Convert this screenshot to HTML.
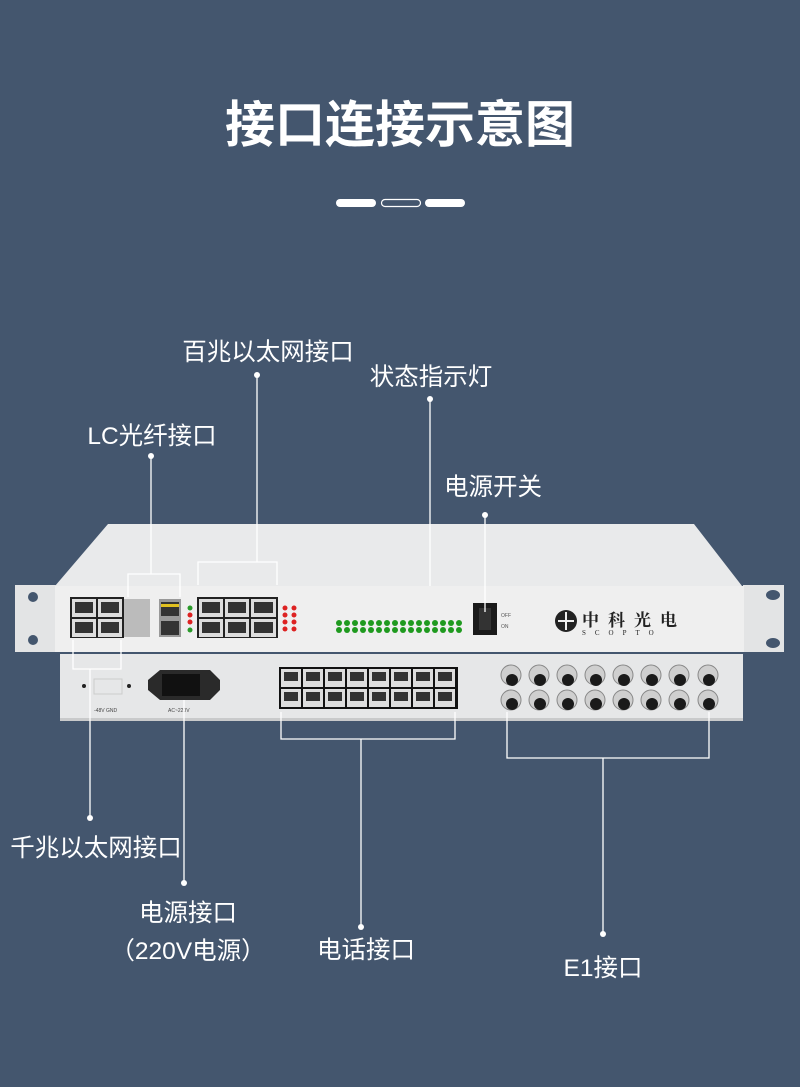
<!DOCTYPE html>
<html><head><meta charset="utf-8"><style>
html,body{margin:0;padding:0;}
body{width:800px;height:1087px;background:#44566e;position:relative;overflow:hidden;font-family:"Liberation Sans","Noto Sans CJK SC",sans-serif;}
.t{position:absolute;color:#fff;white-space:nowrap;transform:translateX(-50%);font-size:24.5px;line-height:1;}
svg{position:absolute;left:0;top:0;}
</style></head><body>
<div class="t" style="left:400px;top:100px;font-size:50px;font-weight:bold;">接口连接示意图</div>
<div class="t" style="left:268px;top:341px;">百兆以太网接口</div>
<div class="t" style="left:431px;top:366px;">状态指示灯</div>
<div class="t" style="left:152px;top:425px;">LC光纤接口</div>
<div class="t" style="left:493px;top:476px;">电源开关</div>
<div class="t" style="left:96px;top:837px;">千兆以太网接口</div>
<div class="t" style="left:188px;top:902px;">电源接口</div>
<div class="t" style="left:188px;top:940px;">（220V电源）</div>
<div class="t" style="left:366px;top:939px;">电话接口</div>
<div class="t" style="left:603px;top:957px;">E1接口</div>
<svg width="800" height="1087" viewBox="0 0 800 1087">
<g fill="#fff"><rect x="336" y="199" width="40" height="8" rx="4"/><rect x="425" y="199" width="40" height="8" rx="4"/></g>
<rect x="381.5" y="199.5" width="39" height="7" rx="3.5" fill="none" stroke="#fff" stroke-width="1.2"/>
<polygon points="108,524 694,524 742,586 55,586" fill="#e9eaeb"/>
<rect x="15" y="585" width="41" height="67" fill="#e3e4e5"/>
<rect x="743" y="585" width="41" height="67" fill="#e3e4e5"/>
<circle cx="33" cy="597" r="5" fill="#44566e"/><circle cx="33" cy="640" r="5" fill="#44566e"/>
<ellipse cx="773" cy="595" rx="7" ry="5" fill="#44566e"/><ellipse cx="773" cy="643" rx="7" ry="5" fill="#44566e"/>
<rect x="55" y="586" width="689" height="66" fill="#efefef"/>
<rect x="70" y="597" width="54" height="41" fill="#222"/>
<g fill="#ddd"><rect x="72" y="599" width="24" height="18"/><rect x="98" y="599" width="24" height="18"/><rect x="72" y="619" width="24" height="18"/><rect x="98" y="619" width="24" height="18"/></g>
<g fill="#333"><rect x="75" y="602" width="18" height="11"/><rect x="101" y="602" width="18" height="11"/><rect x="75" y="622" width="18" height="11"/><rect x="101" y="622" width="18" height="11"/></g>
<rect x="124" y="599" width="26" height="38" fill="#bbb"/>
<rect x="159" y="599" width="22" height="38" fill="#999"/><rect x="161" y="602" width="18" height="14" fill="#333"/><rect x="161" y="621" width="18" height="14" fill="#333"/><rect x="161" y="604" width="18" height="3" fill="#e0c020"/>
<g fill="#2a9a2a"><circle cx="190" cy="608" r="2.5"/><circle cx="190" cy="630" r="2.5"/></g><g fill="#d22"><circle cx="190" cy="615" r="2.5"/><circle cx="190" cy="622" r="2.5"/></g>
<rect x="197" y="597" width="81" height="41" fill="#222"/>
<g fill="#ddd"><rect x="199" y="599" width="24" height="18"/><rect x="225" y="599" width="24" height="18"/><rect x="251" y="599" width="25" height="18"/><rect x="199" y="619" width="24" height="18"/><rect x="225" y="619" width="24" height="18"/><rect x="251" y="619" width="25" height="18"/></g>
<g fill="#333"><rect x="202" y="602" width="18" height="11"/><rect x="228" y="602" width="18" height="11"/><rect x="254" y="602" width="19" height="11"/><rect x="202" y="622" width="18" height="11"/><rect x="228" y="622" width="18" height="11"/><rect x="254" y="622" width="19" height="11"/></g>
<g fill="#d22"><circle cx="285" cy="608" r="2.5"/><circle cx="285" cy="615" r="2.5"/><circle cx="285" cy="622" r="2.5"/><circle cx="285" cy="629" r="2.5"/><circle cx="294" cy="608" r="2.5"/><circle cx="294" cy="615" r="2.5"/><circle cx="294" cy="622" r="2.5"/><circle cx="294" cy="629" r="2.5"/></g>
<g fill="#1f9a1f">
<circle cx="339" cy="623" r="3"/><circle cx="347" cy="623" r="3"/><circle cx="355" cy="623" r="3"/><circle cx="363" cy="623" r="3"/><circle cx="371" cy="623" r="3"/><circle cx="379" cy="623" r="3"/><circle cx="387" cy="623" r="3"/><circle cx="395" cy="623" r="3"/><circle cx="403" cy="623" r="3"/><circle cx="411" cy="623" r="3"/><circle cx="419" cy="623" r="3"/><circle cx="427" cy="623" r="3"/><circle cx="435" cy="623" r="3"/><circle cx="443" cy="623" r="3"/><circle cx="451" cy="623" r="3"/><circle cx="459" cy="623" r="3"/>
<circle cx="339" cy="630" r="3"/><circle cx="347" cy="630" r="3"/><circle cx="355" cy="630" r="3"/><circle cx="363" cy="630" r="3"/><circle cx="371" cy="630" r="3"/><circle cx="379" cy="630" r="3"/><circle cx="387" cy="630" r="3"/><circle cx="395" cy="630" r="3"/><circle cx="403" cy="630" r="3"/><circle cx="411" cy="630" r="3"/><circle cx="419" cy="630" r="3"/><circle cx="427" cy="630" r="3"/><circle cx="435" cy="630" r="3"/><circle cx="443" cy="630" r="3"/><circle cx="451" cy="630" r="3"/><circle cx="459" cy="630" r="3"/></g>
<rect x="473" y="603" width="24" height="32" fill="#1a1a1a"/><rect x="479" y="608" width="12" height="22" fill="#333"/>
<text x="501" y="617" font-size="5" fill="#555">OFF</text><text x="501" y="628" font-size="5" fill="#555">ON</text>
<circle cx="566" cy="621" r="11" fill="#222"/><path d="M558 621h16M566 612v18" stroke="#eee" stroke-width="2"/>
<text x="582" y="626" font-size="17" font-weight="bold" fill="#222" font-family="Noto Serif CJK SC,serif" letter-spacing="9">中科光电</text>
<text x="582" y="635" font-size="7" fill="#222" font-family="Liberation Serif,serif" letter-spacing="9">SCOPTO</text>
<rect x="60" y="654" width="683" height="67" fill="#e6e7e8"/>
<rect x="60" y="718" width="683" height="3" fill="#c9cacb"/>
<circle cx="84" cy="686" r="2" fill="#222"/><circle cx="129" cy="686" r="2" fill="#222"/>
<rect x="94" y="679" width="28" height="15" fill="none" stroke="#ccc"/>
<text x="94" y="712" font-size="5" fill="#444">-48V GND</text>
<path d="M148 680 L160 670 H210 L220 680 V690 L210 700 H160 L148 690 Z" fill="#2a2a2a"/>
<rect x="162" y="674" width="38" height="22" fill="#111"/>
<text x="168" y="712" font-size="5" fill="#444">AC~220V</text>
<rect x="279" y="667" width="179" height="42" fill="#111"/>
<g fill="#ddd">
<rect x="281" y="669" width="20" height="18"/><rect x="303" y="669" width="20" height="18"/><rect x="325" y="669" width="20" height="18"/><rect x="347" y="669" width="20" height="18"/><rect x="369" y="669" width="20" height="18"/><rect x="391" y="669" width="20" height="18"/><rect x="413" y="669" width="20" height="18"/><rect x="435" y="669" width="20" height="18"/>
<rect x="281" y="689" width="20" height="18"/><rect x="303" y="689" width="20" height="18"/><rect x="325" y="689" width="20" height="18"/><rect x="347" y="689" width="20" height="18"/><rect x="369" y="689" width="20" height="18"/><rect x="391" y="689" width="20" height="18"/><rect x="413" y="689" width="20" height="18"/><rect x="435" y="689" width="20" height="18"/></g>
<g fill="#333">
<rect x="284" y="672" width="14" height="9"/><rect x="306" y="672" width="14" height="9"/><rect x="328" y="672" width="14" height="9"/><rect x="350" y="672" width="14" height="9"/><rect x="372" y="672" width="14" height="9"/><rect x="394" y="672" width="14" height="9"/><rect x="416" y="672" width="14" height="9"/><rect x="438" y="672" width="14" height="9"/>
<rect x="284" y="692" width="14" height="9"/><rect x="306" y="692" width="14" height="9"/><rect x="328" y="692" width="14" height="9"/><rect x="350" y="692" width="14" height="9"/><rect x="372" y="692" width="14" height="9"/><rect x="394" y="692" width="14" height="9"/><rect x="416" y="692" width="14" height="9"/><rect x="438" y="692" width="14" height="9"/></g>
<g fill="#cfcfcf" stroke="#888">
<circle cx="511" cy="675" r="10"/><circle cx="539" cy="675" r="10"/><circle cx="567" cy="675" r="10"/><circle cx="595" cy="675" r="10"/><circle cx="623" cy="675" r="10"/><circle cx="651" cy="675" r="10"/><circle cx="679" cy="675" r="10"/><circle cx="708" cy="675" r="10"/>
<circle cx="511" cy="700" r="10"/><circle cx="539" cy="700" r="10"/><circle cx="567" cy="700" r="10"/><circle cx="595" cy="700" r="10"/><circle cx="623" cy="700" r="10"/><circle cx="651" cy="700" r="10"/><circle cx="679" cy="700" r="10"/><circle cx="708" cy="700" r="10"/></g>
<g fill="#1a1a1a">
<circle cx="512" cy="680" r="6"/><circle cx="540" cy="680" r="6"/><circle cx="568" cy="680" r="6"/><circle cx="596" cy="680" r="6"/><circle cx="624" cy="680" r="6"/><circle cx="652" cy="680" r="6"/><circle cx="680" cy="680" r="6"/><circle cx="709" cy="680" r="6"/>
<circle cx="512" cy="704" r="6"/><circle cx="540" cy="704" r="6"/><circle cx="568" cy="704" r="6"/><circle cx="596" cy="704" r="6"/><circle cx="624" cy="704" r="6"/><circle cx="652" cy="704" r="6"/><circle cx="680" cy="704" r="6"/><circle cx="709" cy="704" r="6"/></g>
<g stroke="#fff" stroke-width="1.3" fill="none">
<path d="M257 375V562M198 585V562H277V585"/>
<path d="M151 456V574M128 597V574H180V597"/>
<path d="M430 399V586"/>
<path d="M485 515V612"/>
<path d="M73 640V669H121V640M90 669V818"/>
<path d="M184 700V883"/>
<path d="M281 712V739H455V712M361 739V927"/>
<path d="M507 712V758H709V712M603 758V934"/>
</g>
<g fill="#fff"><circle cx="257" cy="375" r="3"/><circle cx="151" cy="456" r="3"/><circle cx="430" cy="399" r="3"/><circle cx="485" cy="515" r="3"/><circle cx="90" cy="818" r="3"/><circle cx="184" cy="883" r="3"/><circle cx="361" cy="927" r="3"/><circle cx="603" cy="934" r="3"/></g>
</svg>
</body></html>
